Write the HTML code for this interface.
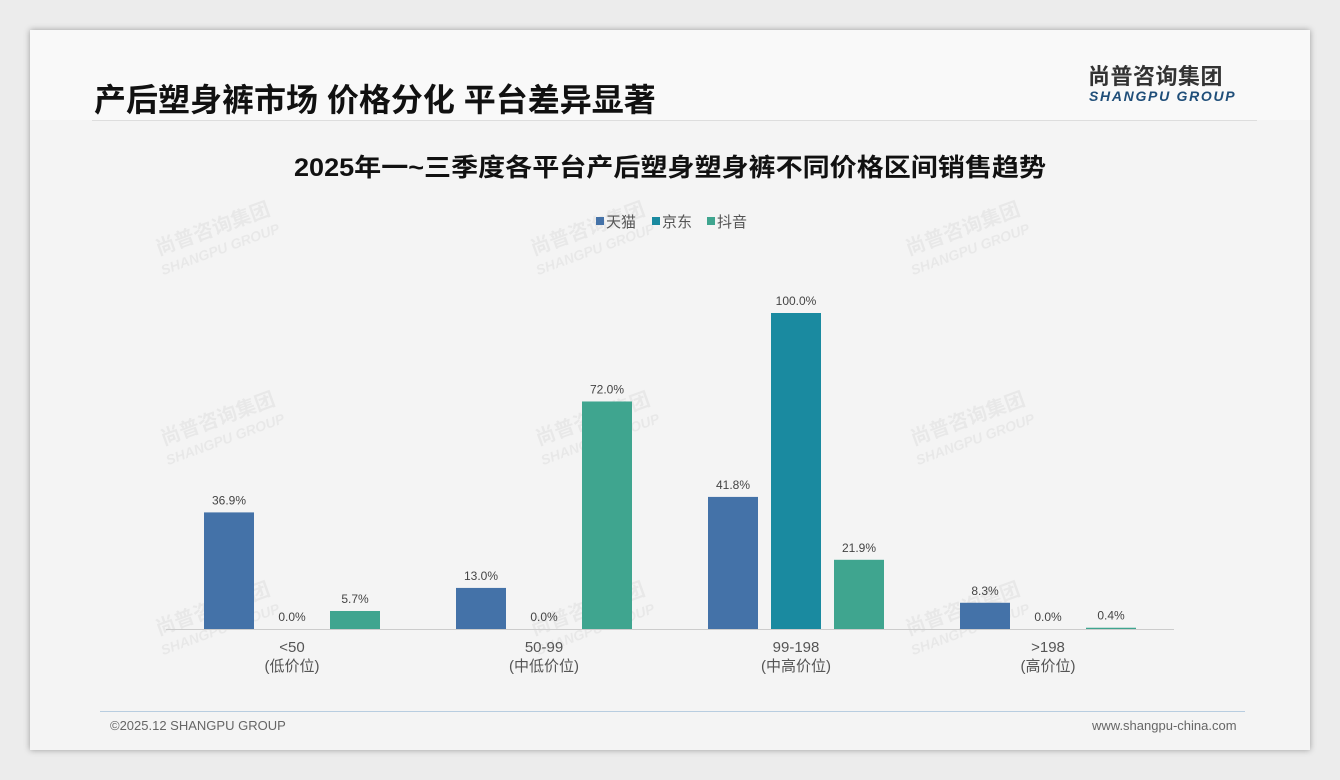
<!DOCTYPE html>
<html><head><meta charset="utf-8"><style>
body{margin:0;width:1340px;height:780px;background:#ececec;font-family:"Liberation Sans","Noto Sans CJK SC",sans-serif;position:relative;overflow:hidden}
.card{position:absolute;left:30px;top:30px;width:1280px;height:720px;background:#f4f4f4;box-shadow:0 0 6px rgba(0,0,0,.35)}
.abs{position:absolute;white-space:nowrap}
</style></head><body>
<div class="card">
<div class="abs" style="left:0;top:0;width:1280px;height:90px;background:#f9f9f9"></div>
<div class="abs" style="left:64px;top:45px;font-size:32px;font-weight:bold;color:#111">产后塑身裤市场 价格分化 平台差异显著</div>
<div class="abs" style="left:1058px;top:34px;font-size:22px;line-height:26px;font-weight:bold;color:#333;letter-spacing:0.5px">尚普咨询集团</div>
<div class="abs" style="left:1059px;top:58px;font-size:14px;line-height:16px;font-weight:bold;font-style:italic;color:#1f4e79;letter-spacing:1.7px">SHANGPU GROUP</div>
<div class="abs" style="left:62px;top:90px;width:1165px;height:1px;background:#ddd"></div>
<div class="abs" style="left:70px;top:681px;width:1145px;height:1px;background:#b8cde0"></div>
<div class="abs" style="left:80px;top:688px;font-size:13px;color:#666">©2025.12 SHANGPU GROUP</div>
<div class="abs" style="left:1062px;top:688px;font-size:13px;color:#666">www.shangpu-china.com</div>
</div>
<svg id="chart" class="abs" style="left:0;top:0" width="1340" height="780">
<text x="294" y="176" textLength="752" lengthAdjust="spacingAndGlyphs" font-size="25" font-weight="bold" fill="#111">2025年一~三季度各平台产后塑身塑身裤不同价格区间销售趋势</text>
</svg>
<script>
const categories=["<50","50-99","99-198",">198"];
const subLabels=["(低价位)","(中低价位)","(中高价位)","(高价位)"];
const seriesNames=["天猫","京东","抖音"];
const tmall=[36.9,13.0,41.8,8.3];
const jd=[0.0,0.0,100.0,0.0];
const douyin=[5.7,72.0,21.9,0.4];
const colors=["#4472a8","#1a8aa0","#3fa58f"];
const svg=document.getElementById('chart');
const NS="http://www.w3.org/2000/svg";
function mk(t,a){const e=document.createElementNS(NS,t);for(const k in a)e.setAttribute(k,a[k]);svg.appendChild(e);return e;}
const x0=166,groupW=252,baseY=629,scale=3.16;
const xCenter=i=>x0+groupW*(i+0.5);
const yPos=v=>baseY-v*scale;
[[215,235],[590,235],[965,235],[220,425],[595,425],[970,425],[215,615],[590,615],[965,615]].forEach(p=>{
 const g=mk('g',{transform:`translate(${p[0]},${p[1]}) rotate(-20)`,opacity:0.045});
 
 
 const a=document.createElementNS(NS,'text');a.setAttribute('font-size','20');a.setAttribute('font-weight','bold');a.setAttribute('text-anchor','middle');a.textContent='尚普咨询集团';g.appendChild(a);
 const b=document.createElementNS(NS,'text');b.setAttribute('font-size','14');b.setAttribute('y','20');b.setAttribute('font-weight','bold');b.setAttribute('font-style','italic');b.setAttribute('text-anchor','middle');b.textContent='SHANGPU GROUP';g.appendChild(b);
});
const ax=mk('line',{x1:x0,x2:x0+groupW*4,y1:baseY+0.5,y2:baseY+0.5,stroke:'#ccc'});


const all=[tmall,jd,douyin];
categories.forEach((c,i)=>{
 const cx=xCenter(i);
 all.forEach((s,j)=>{
  const bx=cx+(j-1)*63-25,v=s[i];
  const r=mk('rect',{x:bx,y:yPos(v),width:50,height:v*scale,fill:colors[j]});
  
  
  const t=mk('text',{x:bx+25,y:yPos(v)-8,'text-anchor':'middle','font-size':12,fill:'#444'});
  
  
  t.textContent=v.toFixed(1)+'%';
 });
 const l=mk('text',{x:cx,y:652,'text-anchor':'middle','font-size':15,fill:'#555'});
 
 
 l.textContent=c;
 const l2=mk('text',{x:cx,y:671,'text-anchor':'middle','font-size':15,fill:'#555'});
 
 
 l2.textContent=subLabels[i];
});
const lx=[596,652,707];
seriesNames.forEach((n,j)=>{
 const r=mk('rect',{x:lx[j],y:217,width:8,height:8,fill:colors[j]});
 
 
 const t=mk('text',{x:lx[j]+10,y:227,'font-size':15,fill:'#555'});
 
 
 t.textContent=n;
});
</script>
</body></html>
